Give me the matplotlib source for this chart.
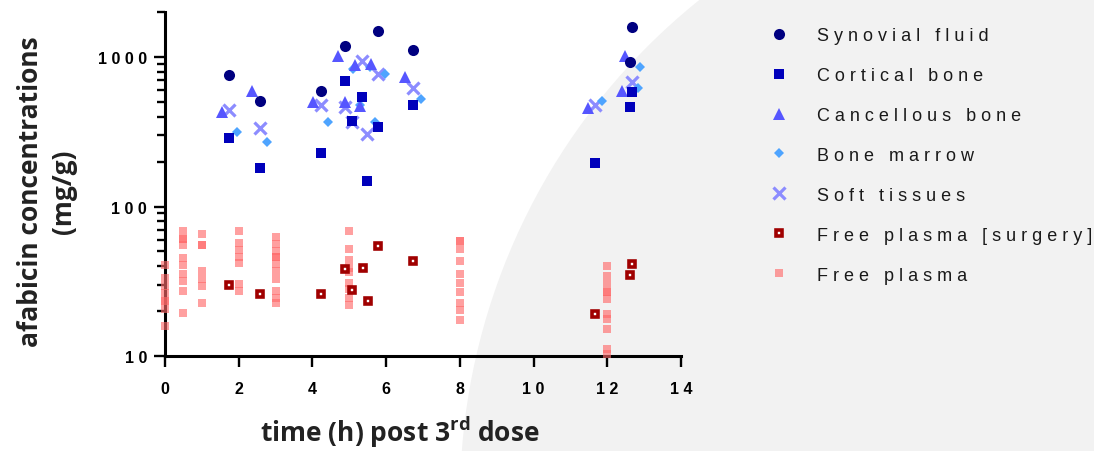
import matplotlib
matplotlib.use('Agg')
import matplotlib.pyplot as plt
from matplotlib.patches import Ellipse
from matplotlib.ticker import FixedLocator, LogLocator, FuncFormatter, NullFormatter

plt.rcParams['mathtext.fontset'] = 'custom'
plt.rcParams['mathtext.rm'] = 'Open Sans'
plt.rcParams['mathtext.bf'] = 'Open Sans:bold'

# data (time in h, concentration)
syn_t = [1.74, 2.58, 4.22, 4.88, 5.78, 6.72, 12.68, 12.62]
syn_c = [757, 509, 591, 1186, 1503, 1127, 1608, 935]

cort_t = [1.74, 2.58, 4.22, 4.88, 5.08, 5.34, 5.78, 5.49, 6.72, 12.68, 12.62, 11.67]
cort_c = [286, 182, 227, 690, 376, 545, 343, 149, 476, 589, 464, 196]

canc_t = [1.55, 2.37, 4.02, 4.69, 4.88, 5.15, 5.29, 5.58, 6.51, 12.48, 12.39, 11.48]
canc_c = [432, 598, 499, 1021, 505, 887, 474, 908, 738, 1021, 594, 460]

marrow_t = [1.95, 2.78, 4.43, 5.09, 5.29, 5.56, 5.71, 5.97, 6.94, 12.89, 12.84, 11.87]
marrow_c = [317, 269, 366, 835, 478, 865, 366, 772, 522, 865, 619, 509]

soft_t = [1.74, 2.58, 4.22, 4.88, 5.34, 5.08, 5.49, 5.78, 6.72, 12.68, 11.67]
soft_c = [441, 334, 478, 462, 950, 370, 304, 769, 626, 687, 478]

surg_t = [1.74, 2.58, 4.22, 4.88, 5.36, 5.08, 5.52, 5.79, 6.72, 11.67, 12.68, 12.62]
surg_c = [30.0, 25.8, 25.9, 38.4, 39.0, 27.4, 23.2, 54.2, 43.2, 19.1, 41.0, 34.6]

plasma_times = [0, 0.5, 1, 2, 3, 5, 8, 12]
plasma_conc = [
    [40.6, 33.3, 29.5, 26.5, 23.3, 23.3, 20.7, 15.7],
    [68.2, 60.1, 60.1, 55.0, 45.5, 40.4, 35.5, 31.5, 27.0, 19.4],
    [65.9, 55.6, 55.6, 37.1, 32.9, 29.4, 22.7],
    [68.5, 57.1, 50.8, 45.7, 42.0, 30.4, 27.1],
    [62.5, 56.1, 50.4, 45.9, 45.9, 41.2, 37.0, 32.7, 27.2, 24.4, 22.6],
    [68.5, 52.1, 43.7, 38.9, 36.2, 30.8, 28.0, 24.5, 22.0],
    [58.5, 58.5, 51.9, 43.3, 35.3, 30.6, 26.6, 22.5, 20.2, 17.3],
    [39.7, 34.4, 30.3, 26.6, 26.6, 24.0, 19.0, 17.6, 15.1, 11.1, 10.3],
]

labels = ['Synovial fluid', 'Cortical bone', 'Cancellous bone', 'Bone marrow',
          'Soft tissues', 'Free plasma [surgery]', 'Free plasma']


def spaced(s):
    return ' '.join(s)


W, H = 1094, 452
fig = plt.figure(figsize=(W / 100, H / 100), dpi=100)
fig.patch.set_facecolor('white')
# grey slide decoration behind the chart
fig.patches.append(Ellipse((1100 / W, 1 - 500 / H), 2 * 640 / W, 2 * 640 / H,
                           transform=fig.transFigure, facecolor='#f2f2f2',
                           edgecolor='none', zorder=-10))

ax = fig.add_axes([165 / W, 1 - 356.7 / H, (681 - 165) / W, (356.7 - 13.4) / H])
ax.set_facecolor('none')

pt_t = [t for t, col in zip(plasma_times, plasma_conc) for _ in col]
pt_c = [c for col in plasma_conc for c in col]

ax.plot(pt_t, pt_c, ls='none', marker='s', ms=5.6, mew=0, color='#ff6969',
        alpha=0.63, clip_on=False, zorder=3, label=labels[6])
ax.plot(surg_t, surg_c, ls='none', marker='s', ms=4.6, mew=2.6, mfc='white',
        mec='#a00000', clip_on=False, zorder=4, label=labels[5])
ax.plot(soft_t, soft_c, ls='none', marker='x', ms=9, mew=2.3, color='#8c8cff',
        clip_on=False, zorder=5, label=labels[4])
ax.plot(marrow_t, marrow_c, ls='none', marker='D', ms=5.2, mew=0, color='#4ea4ff',
        clip_on=False, zorder=6, label=labels[3])
ax.plot(canc_t, canc_c, ls='none', marker='^', ms=8, mew=0, color='#5656ff',
        clip_on=False, zorder=7, label=labels[2])
ax.plot(cort_t, cort_c, ls='none', marker='s', ms=7.6, mew=0, color='#0000bb',
        clip_on=False, zorder=8, label=labels[1])
ax.plot(syn_t, syn_c, ls='none', marker='o', ms=8, mew=0, color='#000080',
        clip_on=False, zorder=9, label=labels[0])

ax.set_yscale('log')
ax.set_xlim(0, 14)
ax.set_ylim(10, 2000)

for s in ['top', 'right']:
    ax.spines[s].set_visible(False)
for s in ['left', 'bottom']:
    ax.spines[s].set_linewidth(2.2)
    ax.spines[s].set_zorder(2)

ax.xaxis.set_major_locator(FixedLocator(range(0, 15, 2)))
ax.xaxis.set_major_formatter(FuncFormatter(lambda v, p: spaced(str(int(v)))))
ax.yaxis.set_major_locator(LogLocator(base=10, numticks=10))
ax.yaxis.set_minor_locator(LogLocator(base=10, subs=range(2, 10), numticks=10))
ax.yaxis.set_major_formatter(FuncFormatter(lambda v, p: spaced(str(int(round(v))))))
ax.yaxis.set_minor_formatter(NullFormatter())

ax.tick_params(axis='x', which='major', length=8, width=1.7, pad=10)
ax.tick_params(axis='y', which='major', length=8, width=1.7, pad=5)
ax.tick_params(axis='y', which='minor', length=6, width=1.7)
for lab in ax.get_xticklabels() + ax.get_yticklabels():
    lab.set_fontfamily('Liberation Sans')
    lab.set_fontweight('bold')
    lab.set_fontsize(11.5)

fig.text(400 / W, 1 - 432 / H, r'time (h) post 3$^{\mathbf{rd}}$ dose', ha='center',
         va='center', fontsize=19, fontweight='bold', family='Open Sans', color='#222222')
fig.text(47 / W, 1 - 192 / H, 'afabicin concentrations\n(mg/g)', ha='center',
         va='center', rotation=90, fontsize=19, fontweight='bold', family='Open Sans',
         color='#222222', multialignment='center', linespacing=1.3)

handles, labs = ax.get_legend_handles_labels()
handles = handles[::-1]
labs = [spaced(l) for l in labs[::-1]]
leg = ax.legend(handles, labs, loc='upper left', bbox_to_anchor=(770 / W, 1 - 28 / H),
                bbox_transform=fig.transFigure, frameon=False, numpoints=1,
                prop={'family': 'Liberation Sans', 'size': 13}, handlelength=1.0,
                handletextpad=1.6, labelspacing=1.27, borderpad=0, borderaxespad=0)
for t in leg.get_texts():
    t.set_color('#1a1a1a')

plt.savefig('out.png', dpi=100, facecolor=fig.get_facecolor())
